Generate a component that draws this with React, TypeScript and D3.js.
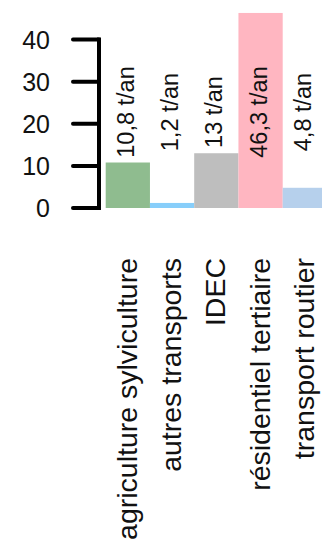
import React from "react";
import * as d3 from "d3";

const categories = [
  "agriculture sylviculture",
  "autres transports",
  "IDEC",
  "résidentiel tertiaire",
  "transport routier",
];
const values = [10.8, 1.2, 13, 46.3, 4.8];
const valueLabels = ["10,8 t/an", "1,2 t/an", "13 t/an", "46,3 t/an", "4,8 t/an"];
const colors = ["#8fbc8f", "#87cefa", "#bebebe", "#ffb6c1", "#b6d0ec"];
const yTicks = [0, 10, 20, 30, 40];

const W = 322;
const H = 547;

export default function App() {
  const y = d3.scaleLinear().domain([0, 40]).range([208, 39.5]);
  const x = d3
    .scaleBand<string>()
    .domain(categories)
    .range([105.7, 105.7 + 5 * 44.25])
    .padding(0);
  const axisX = 99;
  const font = "'Liberation Sans', Arial, sans-serif";
  const labelY = 112;
  const catY = 258;

  return (
    <svg
      width={W}
      height={H}
      style={{ position: "absolute", left: 0, top: 0, background: "#fff" }}
      fontFamily={font}
    >
      {categories.map((c, i) => (
        <rect
          key={c}
          x={x(c)}
          y={y(values[i])}
          width={x.bandwidth()}
          height={y(0) - y(values[i])}
          fill={colors[i]}
        />
      ))}
      <path
        d={`M${axisX},${y(0)}V${y(40)}`}
        stroke="#000"
        strokeWidth={4}
        fill="none"
        strokeLinecap="square"
      />
      {yTicks.map((t) => (
        <g key={t}>
          <line
            x1={73}
            x2={axisX}
            y1={y(t)}
            y2={y(t)}
            stroke="#000"
            strokeWidth={4}
            strokeLinecap="round"
          />
          <text
            x={50}
            y={y(t)}
            dy="0.36em"
            textAnchor="end"
            fontSize={25}
            fill="#111"
          >
            {t}
          </text>
        </g>
      ))}
      {categories.map((c, i) => {
        const cx = x(c)! + x.bandwidth() / 2;
        return (
          <text
            key={"v" + c}
            transform={`translate(${cx + 6},${labelY}) rotate(-90)`}
            textAnchor="middle"
            fontSize={23.5}
            fill="#111"
          >
            {valueLabels[i]}
          </text>
        );
      })}
      {categories.map((c, i) => {
        const cx = x(c)! + x.bandwidth() / 2;
        return (
          <text
            key={"c" + c}
            transform={`translate(${cx + 9},${catY}) rotate(-90)`}
            textAnchor="end"
            fontSize={28.5}
            fill="#111"
          >
            {c}
          </text>
        );
      })}
    </svg>
  );
}
